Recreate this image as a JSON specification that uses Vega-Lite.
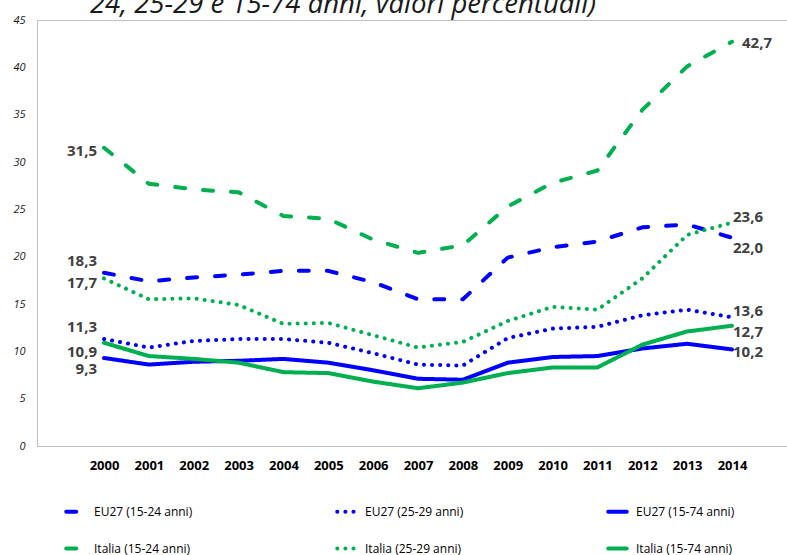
{
  "$schema": "https://vega.github.io/schema/vega-lite/v6.json",
  "autosize": {"type": "none"},
  "width": 752,
  "height": 426,
  "padding": {"left": 37, "top": 20, "right": 0, "bottom": 109},
  "background": "white",
  "config": {
    "view": {"stroke": "#bfbfbf", "strokeWidth": 1},
    "font": "Open Sans",
    "locale": {"number": {"decimal": ",", "thousands": ".", "grouping": [3], "currency": ["", " €"]}}
  },
  "title": {
    "text": "24, 25-29 e 15-74 anni, valori percentuali)",
    "anchor": "start",
    "dx": 77,
    "offset": -4,
    "fontSize": 27.5,
    "fontStyle": "italic",
    "fontWeight": "normal",
    "color": "#1a1a1a"
  },
  "datasets": {
    "rows": [
      {"series": "EU27 (15-24 anni)", "year": 2000, "v": 18.3}, {"series": "EU27 (15-24 anni)", "year": 2001, "v": 17.4}, {"series": "EU27 (15-24 anni)", "year": 2002, "v": 17.8}, {"series": "EU27 (15-24 anni)", "year": 2003, "v": 18.1}, {"series": "EU27 (15-24 anni)", "year": 2004, "v": 18.5}, {"series": "EU27 (15-24 anni)", "year": 2005, "v": 18.5}, {"series": "EU27 (15-24 anni)", "year": 2006, "v": 17.3}, {"series": "EU27 (15-24 anni)", "year": 2007, "v": 15.5}, {"series": "EU27 (15-24 anni)", "year": 2008, "v": 15.5}, {"series": "EU27 (15-24 anni)", "year": 2009, "v": 19.9}, {"series": "EU27 (15-24 anni)", "year": 2010, "v": 21.0}, {"series": "EU27 (15-24 anni)", "year": 2011, "v": 21.6}, {"series": "EU27 (15-24 anni)", "year": 2012, "v": 23.1}, {"series": "EU27 (15-24 anni)", "year": 2013, "v": 23.4}, {"series": "EU27 (15-24 anni)", "year": 2014, "v": 22.0},
      {"series": "EU27 (25-29 anni)", "year": 2000, "v": 11.3}, {"series": "EU27 (25-29 anni)", "year": 2001, "v": 10.4}, {"series": "EU27 (25-29 anni)", "year": 2002, "v": 11.1}, {"series": "EU27 (25-29 anni)", "year": 2003, "v": 11.3}, {"series": "EU27 (25-29 anni)", "year": 2004, "v": 11.3}, {"series": "EU27 (25-29 anni)", "year": 2005, "v": 10.9}, {"series": "EU27 (25-29 anni)", "year": 2006, "v": 9.8}, {"series": "EU27 (25-29 anni)", "year": 2007, "v": 8.6}, {"series": "EU27 (25-29 anni)", "year": 2008, "v": 8.5}, {"series": "EU27 (25-29 anni)", "year": 2009, "v": 11.4}, {"series": "EU27 (25-29 anni)", "year": 2010, "v": 12.4}, {"series": "EU27 (25-29 anni)", "year": 2011, "v": 12.6}, {"series": "EU27 (25-29 anni)", "year": 2012, "v": 13.8}, {"series": "EU27 (25-29 anni)", "year": 2013, "v": 14.4}, {"series": "EU27 (25-29 anni)", "year": 2014, "v": 13.6},
      {"series": "EU27 (15-74 anni)", "year": 2000, "v": 9.3}, {"series": "EU27 (15-74 anni)", "year": 2001, "v": 8.6}, {"series": "EU27 (15-74 anni)", "year": 2002, "v": 8.9}, {"series": "EU27 (15-74 anni)", "year": 2003, "v": 9.0}, {"series": "EU27 (15-74 anni)", "year": 2004, "v": 9.2}, {"series": "EU27 (15-74 anni)", "year": 2005, "v": 8.8}, {"series": "EU27 (15-74 anni)", "year": 2006, "v": 8.0}, {"series": "EU27 (15-74 anni)", "year": 2007, "v": 7.1}, {"series": "EU27 (15-74 anni)", "year": 2008, "v": 7.0}, {"series": "EU27 (15-74 anni)", "year": 2009, "v": 8.8}, {"series": "EU27 (15-74 anni)", "year": 2010, "v": 9.4}, {"series": "EU27 (15-74 anni)", "year": 2011, "v": 9.5}, {"series": "EU27 (15-74 anni)", "year": 2012, "v": 10.3}, {"series": "EU27 (15-74 anni)", "year": 2013, "v": 10.8}, {"series": "EU27 (15-74 anni)", "year": 2014, "v": 10.2},
      {"series": "Italia (15-24 anni)", "year": 2000, "v": 31.5}, {"series": "Italia (15-24 anni)", "year": 2001, "v": 27.7}, {"series": "Italia (15-24 anni)", "year": 2002, "v": 27.1}, {"series": "Italia (15-24 anni)", "year": 2003, "v": 26.8}, {"series": "Italia (15-24 anni)", "year": 2004, "v": 24.3}, {"series": "Italia (15-24 anni)", "year": 2005, "v": 24.0}, {"series": "Italia (15-24 anni)", "year": 2006, "v": 21.8}, {"series": "Italia (15-24 anni)", "year": 2007, "v": 20.4}, {"series": "Italia (15-24 anni)", "year": 2008, "v": 21.2}, {"series": "Italia (15-24 anni)", "year": 2009, "v": 25.3}, {"series": "Italia (15-24 anni)", "year": 2010, "v": 27.8}, {"series": "Italia (15-24 anni)", "year": 2011, "v": 29.1}, {"series": "Italia (15-24 anni)", "year": 2012, "v": 35.5}, {"series": "Italia (15-24 anni)", "year": 2013, "v": 40.1}, {"series": "Italia (15-24 anni)", "year": 2014, "v": 42.7},
      {"series": "Italia (25-29 anni)", "year": 2000, "v": 17.7}, {"series": "Italia (25-29 anni)", "year": 2001, "v": 15.5}, {"series": "Italia (25-29 anni)", "year": 2002, "v": 15.6}, {"series": "Italia (25-29 anni)", "year": 2003, "v": 14.9}, {"series": "Italia (25-29 anni)", "year": 2004, "v": 12.9}, {"series": "Italia (25-29 anni)", "year": 2005, "v": 13.0}, {"series": "Italia (25-29 anni)", "year": 2006, "v": 11.7}, {"series": "Italia (25-29 anni)", "year": 2007, "v": 10.4}, {"series": "Italia (25-29 anni)", "year": 2008, "v": 11.0}, {"series": "Italia (25-29 anni)", "year": 2009, "v": 13.2}, {"series": "Italia (25-29 anni)", "year": 2010, "v": 14.7}, {"series": "Italia (25-29 anni)", "year": 2011, "v": 14.4}, {"series": "Italia (25-29 anni)", "year": 2012, "v": 17.7}, {"series": "Italia (25-29 anni)", "year": 2013, "v": 22.3}, {"series": "Italia (25-29 anni)", "year": 2014, "v": 23.6},
      {"series": "Italia (15-74 anni)", "year": 2000, "v": 10.9}, {"series": "Italia (15-74 anni)", "year": 2001, "v": 9.5}, {"series": "Italia (15-74 anni)", "year": 2002, "v": 9.2}, {"series": "Italia (15-74 anni)", "year": 2003, "v": 8.8}, {"series": "Italia (15-74 anni)", "year": 2004, "v": 7.8}, {"series": "Italia (15-74 anni)", "year": 2005, "v": 7.7}, {"series": "Italia (15-74 anni)", "year": 2006, "v": 6.8}, {"series": "Italia (15-74 anni)", "year": 2007, "v": 6.1}, {"series": "Italia (15-74 anni)", "year": 2008, "v": 6.7}, {"series": "Italia (15-74 anni)", "year": 2009, "v": 7.7}, {"series": "Italia (15-74 anni)", "year": 2010, "v": 8.3}, {"series": "Italia (15-74 anni)", "year": 2011, "v": 8.3}, {"series": "Italia (15-74 anni)", "year": 2012, "v": 10.7}, {"series": "Italia (15-74 anni)", "year": 2013, "v": 12.1}, {"series": "Italia (15-74 anni)", "year": 2014, "v": 12.7}
    ]
  },
  "data": {"name": "rows"},
  "encoding": {
    "x": {
      "field": "year", "type": "quantitative",
      "scale": {"domain": [1998.506, 2015.271], "nice": false, "zero": false},
      "axis": {
        "title": null, "values": [2000, 2001, 2002, 2003, 2004, 2005, 2006, 2007, 2008, 2009, 2010, 2011, 2012, 2013, 2014],
        "format": "d", "grid": false, "ticks": false, "domainColor": "#bfbfbf",
        "labelFont": "Open Sans", "labelFontSize": 13, "labelFontWeight": "bold", "labelColor": "#000000",
        "labelPadding": 13, "labelFlush": false, "labelOverlap": false
      }
    },
    "y": {
      "field": "v", "type": "quantitative",
      "scale": {"domain": [0, 45], "nice": false},
      "axis": {
        "title": null, "values": [0, 5, 10, 15, 20, 25, 30, 35, 40, 45], "grid": false, "ticks": false,
        "domainColor": "#bfbfbf", "labelFont": "Open Sans", "labelFontSize": 11, "labelFontStyle": "italic",
        "labelColor": "#1a1a1a", "labelPadding": 12
      }
    }
  },
  "layer": [
    {
      "mark": {"type": "line", "strokeWidth": 4, "strokeCap": "round", "strokeJoin": "round", "interpolate": "linear"},
      "encoding": {
        "color": {
          "field": "series", "type": "nominal",
          "scale": {
            "domain": ["EU27 (15-24 anni)", "EU27 (25-29 anni)", "EU27 (15-74 anni)", "Italia (15-24 anni)", "Italia (25-29 anni)", "Italia (15-74 anni)"],
            "range": ["#0000ff", "#0000ff", "#0000ff", "#00b050", "#00b050", "#00b050"]
          },
          "legend": {
            "title": null, "orient": "none", "legendX": 27, "legendY": 480, "direction": "horizontal", "columns": 3,
            "columnPadding": 136, "rowPadding": 17, "padding": 0, "gridAlign": "all",
            "symbolType": "stroke", "symbolSize": 342, "symbolStrokeWidth": 4,
            "labelFont": "Open Sans", "labelFontSize": 12, "labelColor": "#000000", "labelOffset": 7, "labelLimit": 300,
            "encode": {"symbols": {"update": {"strokeCap": {"value": "round"}}}}
          }
        },
        "strokeDash": {
          "field": "series", "type": "nominal",
          "scale": {
            "domain": ["EU27 (15-24 anni)", "EU27 (25-29 anni)", "EU27 (15-74 anni)", "Italia (15-24 anni)", "Italia (25-29 anni)", "Italia (15-74 anni)"],
            "range": [[10, 18], [0.1, 8], [1, 0], [10, 18], [0.1, 8], [1, 0]]
          }
        }
      }
    },
    {
      "transform": [{"filter": "datum.year == 2000 && datum.series == 'Italia (15-24 anni)'"}],
      "mark": {"type": "text", "align": "right", "baseline": "middle", "dx": -7, "dy": 3, "font": "Open Sans", "fontSize": 15, "fontWeight": "bold", "color": "#404040"},
      "encoding": {"text": {"field": "v", "type": "quantitative", "format": ".1f"}}
    },
    {
      "transform": [{"filter": "datum.year == 2000 && (datum.series == 'EU27 (15-24 anni)' || datum.series == 'EU27 (25-29 anni)')"}],
      "mark": {"type": "text", "align": "right", "baseline": "middle", "dx": -7, "dy": -12, "font": "Open Sans", "fontSize": 15, "fontWeight": "bold", "color": "#404040"},
      "encoding": {"text": {"field": "v", "type": "quantitative", "format": ".1f"}}
    },
    {
      "transform": [{"filter": "datum.year == 2000 && datum.series == 'Italia (25-29 anni)'"}],
      "mark": {"type": "text", "align": "right", "baseline": "middle", "dx": -7, "dy": 5, "font": "Open Sans", "fontSize": 15, "fontWeight": "bold", "color": "#404040"},
      "encoding": {"text": {"field": "v", "type": "quantitative", "format": ".1f"}}
    },
    {
      "transform": [{"filter": "datum.year == 2000 && datum.series == 'Italia (15-74 anni)'"}],
      "mark": {"type": "text", "align": "right", "baseline": "middle", "dx": -7, "dy": 9, "font": "Open Sans", "fontSize": 15, "fontWeight": "bold", "color": "#404040"},
      "encoding": {"text": {"field": "v", "type": "quantitative", "format": ".1f"}}
    },
    {
      "transform": [{"filter": "datum.year == 2000 && datum.series == 'EU27 (15-74 anni)'"}],
      "mark": {"type": "text", "align": "right", "baseline": "middle", "dx": -7, "dy": 11, "font": "Open Sans", "fontSize": 15, "fontWeight": "bold", "color": "#404040"},
      "encoding": {"text": {"field": "v", "type": "quantitative", "format": ".1f"}}
    },
    {
      "transform": [{"filter": "datum.year == 2014 && datum.series == 'Italia (15-24 anni)'"}],
      "mark": {"type": "text", "align": "left", "baseline": "middle", "dx": 10, "dy": 1, "font": "Open Sans", "fontSize": 15, "fontWeight": "bold", "color": "#404040"},
      "encoding": {"text": {"field": "v", "type": "quantitative", "format": ".1f"}}
    },
    {
      "transform": [{"filter": "datum.year == 2014 && (datum.series == 'Italia (25-29 anni)' || datum.series == 'EU27 (25-29 anni)')"}],
      "mark": {"type": "text", "align": "left", "baseline": "middle", "dx": 1, "dy": -6, "font": "Open Sans", "fontSize": 15, "fontWeight": "bold", "color": "#404040"},
      "encoding": {"text": {"field": "v", "type": "quantitative", "format": ".1f"}}
    },
    {
      "transform": [{"filter": "datum.year == 2014 && datum.series == 'EU27 (15-24 anni)'"}],
      "mark": {"type": "text", "align": "left", "baseline": "middle", "dx": 1, "dy": 10, "font": "Open Sans", "fontSize": 15, "fontWeight": "bold", "color": "#404040"},
      "encoding": {"text": {"field": "v", "type": "quantitative", "format": ".1f"}}
    },
    {
      "transform": [{"filter": "datum.year == 2014 && datum.series == 'Italia (15-74 anni)'"}],
      "mark": {"type": "text", "align": "left", "baseline": "middle", "dx": 1, "dy": 6, "font": "Open Sans", "fontSize": 15, "fontWeight": "bold", "color": "#404040"},
      "encoding": {"text": {"field": "v", "type": "quantitative", "format": ".1f"}}
    },
    {
      "transform": [{"filter": "datum.year == 2014 && datum.series == 'EU27 (15-74 anni)'"}],
      "mark": {"type": "text", "align": "left", "baseline": "middle", "dx": 1, "dy": 3, "font": "Open Sans", "fontSize": 15, "fontWeight": "bold", "color": "#404040"},
      "encoding": {"text": {"field": "v", "type": "quantitative", "format": ".1f"}}
    }
  ]
}
